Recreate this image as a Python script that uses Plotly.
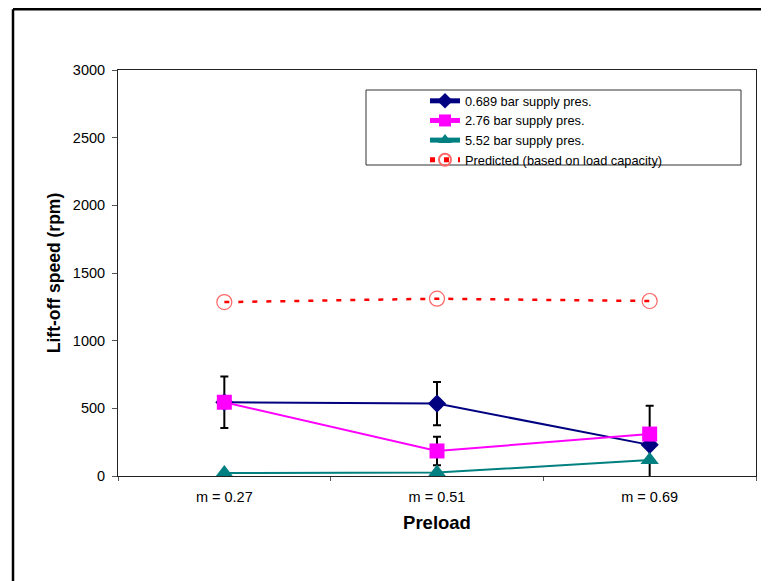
import plotly.graph_objects as go

categories = ["m = 0.27", "m = 0.51", "m = 0.69"]
low_pres = [545, 535, 230]
low_pres_err = [190, 160, 290]
mid_pres = [545, 185, 310]
mid_pres_err = [0, 105, 0]
high_pres = [22, 25, 118]
predicted = [1285, 1310, 1293]

fig = go.Figure()

fig.add_trace(go.Scatter(
    x=categories, y=low_pres, name="0.689 bar supply pres.",
    mode="lines+markers",
    line=dict(color="#000080", width=2),
    marker=dict(symbol="diamond", size=14, color="#000080"),
    error_y=dict(type="data", array=low_pres_err, color="black", thickness=2, width=4),
))
fig.add_trace(go.Scatter(
    x=categories, y=mid_pres, name="2.76 bar supply pres.",
    mode="lines+markers",
    line=dict(color="#FF00FF", width=2),
    marker=dict(symbol="square", size=15, color="#FF00FF"),
    error_y=dict(type="data", array=mid_pres_err, color="black", thickness=2, width=4),
))
fig.add_trace(go.Scatter(
    x=categories, y=high_pres, name="5.52 bar supply pres.",
    mode="lines+markers",
    line=dict(color="#008080", width=2),
    marker=dict(symbol="triangle-up", size=16, color="#008080"),
))
fig.add_trace(go.Scatter(
    x=categories, y=predicted, name="Predicted (based on load capacity)",
    mode="lines+markers",
    line=dict(color="#FF0000", width=2.5, dash="5px,9px"),
    marker=dict(symbol="circle-open", size=15, color="#FF6666", line=dict(width=1.2, color="#FF5555")),
))

# page body has an 8px margin, so figure coords = screen coords - 8
OFF = 8
W, H = 769 - OFF, 581 - OFF
L, T = 118 - OFF, 70 - OFF
R = W - (756 - OFF)
B = H - (476 - OFF)
pw, ph = W - L - R, H - T - B

def px(x):
    return (x - OFF - L) / pw

def py(y):
    return (H - B - (y - OFF)) / ph

shapes = [
    dict(type="line", xref="paper", yref="paper", x0=px(13), x1=px(13), y0=py(9.2), y1=py(620),
         line=dict(color="black", width=2.5)),
    dict(type="line", xref="paper", yref="paper", x0=px(13), x1=px(820), y0=py(9.2), y1=py(9.2),
         line=dict(color="black", width=2.5)),
    dict(type="rect", xref="paper", yref="paper", x0=px(366), x1=px(741), y0=py(165), y1=py(90),
         line=dict(color="#333333", width=1), fillcolor="rgba(0,0,0,0)"),
]

fig.update_layout(
    width=W, height=H,
    margin=dict(l=L, r=R, t=T, b=B),
    paper_bgcolor="white", plot_bgcolor="white",
    font=dict(family="Arial, Liberation Sans, sans-serif", color="black", size=14.5),
    showlegend=True,
    legend=dict(x=px(425), y=py(86), xanchor="left", yanchor="top",
                bgcolor="rgba(0,0,0,0)", borderwidth=0,
                font=dict(size=12.8), tracegroupgap=0, itemwidth=30,
                itemsizing="constant"),
    shapes=shapes,
    xaxis=dict(
        type="category", range=[-0.5, 2.5],
        title=dict(text="<b>Preload</b>", font=dict(size=18.5), standoff=11),
        showline=True, linecolor="#222", linewidth=1, mirror=True,
        ticks="outside", ticklen=4, tickson="boundaries", tickcolor="#555",
        showgrid=False, tickfont=dict(size=14.5), ticklabelstandoff=8,
    ),
    yaxis=dict(
        range=[0, 3000], dtick=500,
        title=dict(text="<b>Lift-off speed (rpm)</b>", font=dict(size=17.5), standoff=7),
        showline=True, linecolor="#222", linewidth=1, mirror=True,
        ticks="outside", ticklen=5, tickcolor="#555",
        showgrid=False, zeroline=False, tickfont=dict(size=14.5), ticklabelstandoff=4,
    ),
)

fig.write_html("out.html")
